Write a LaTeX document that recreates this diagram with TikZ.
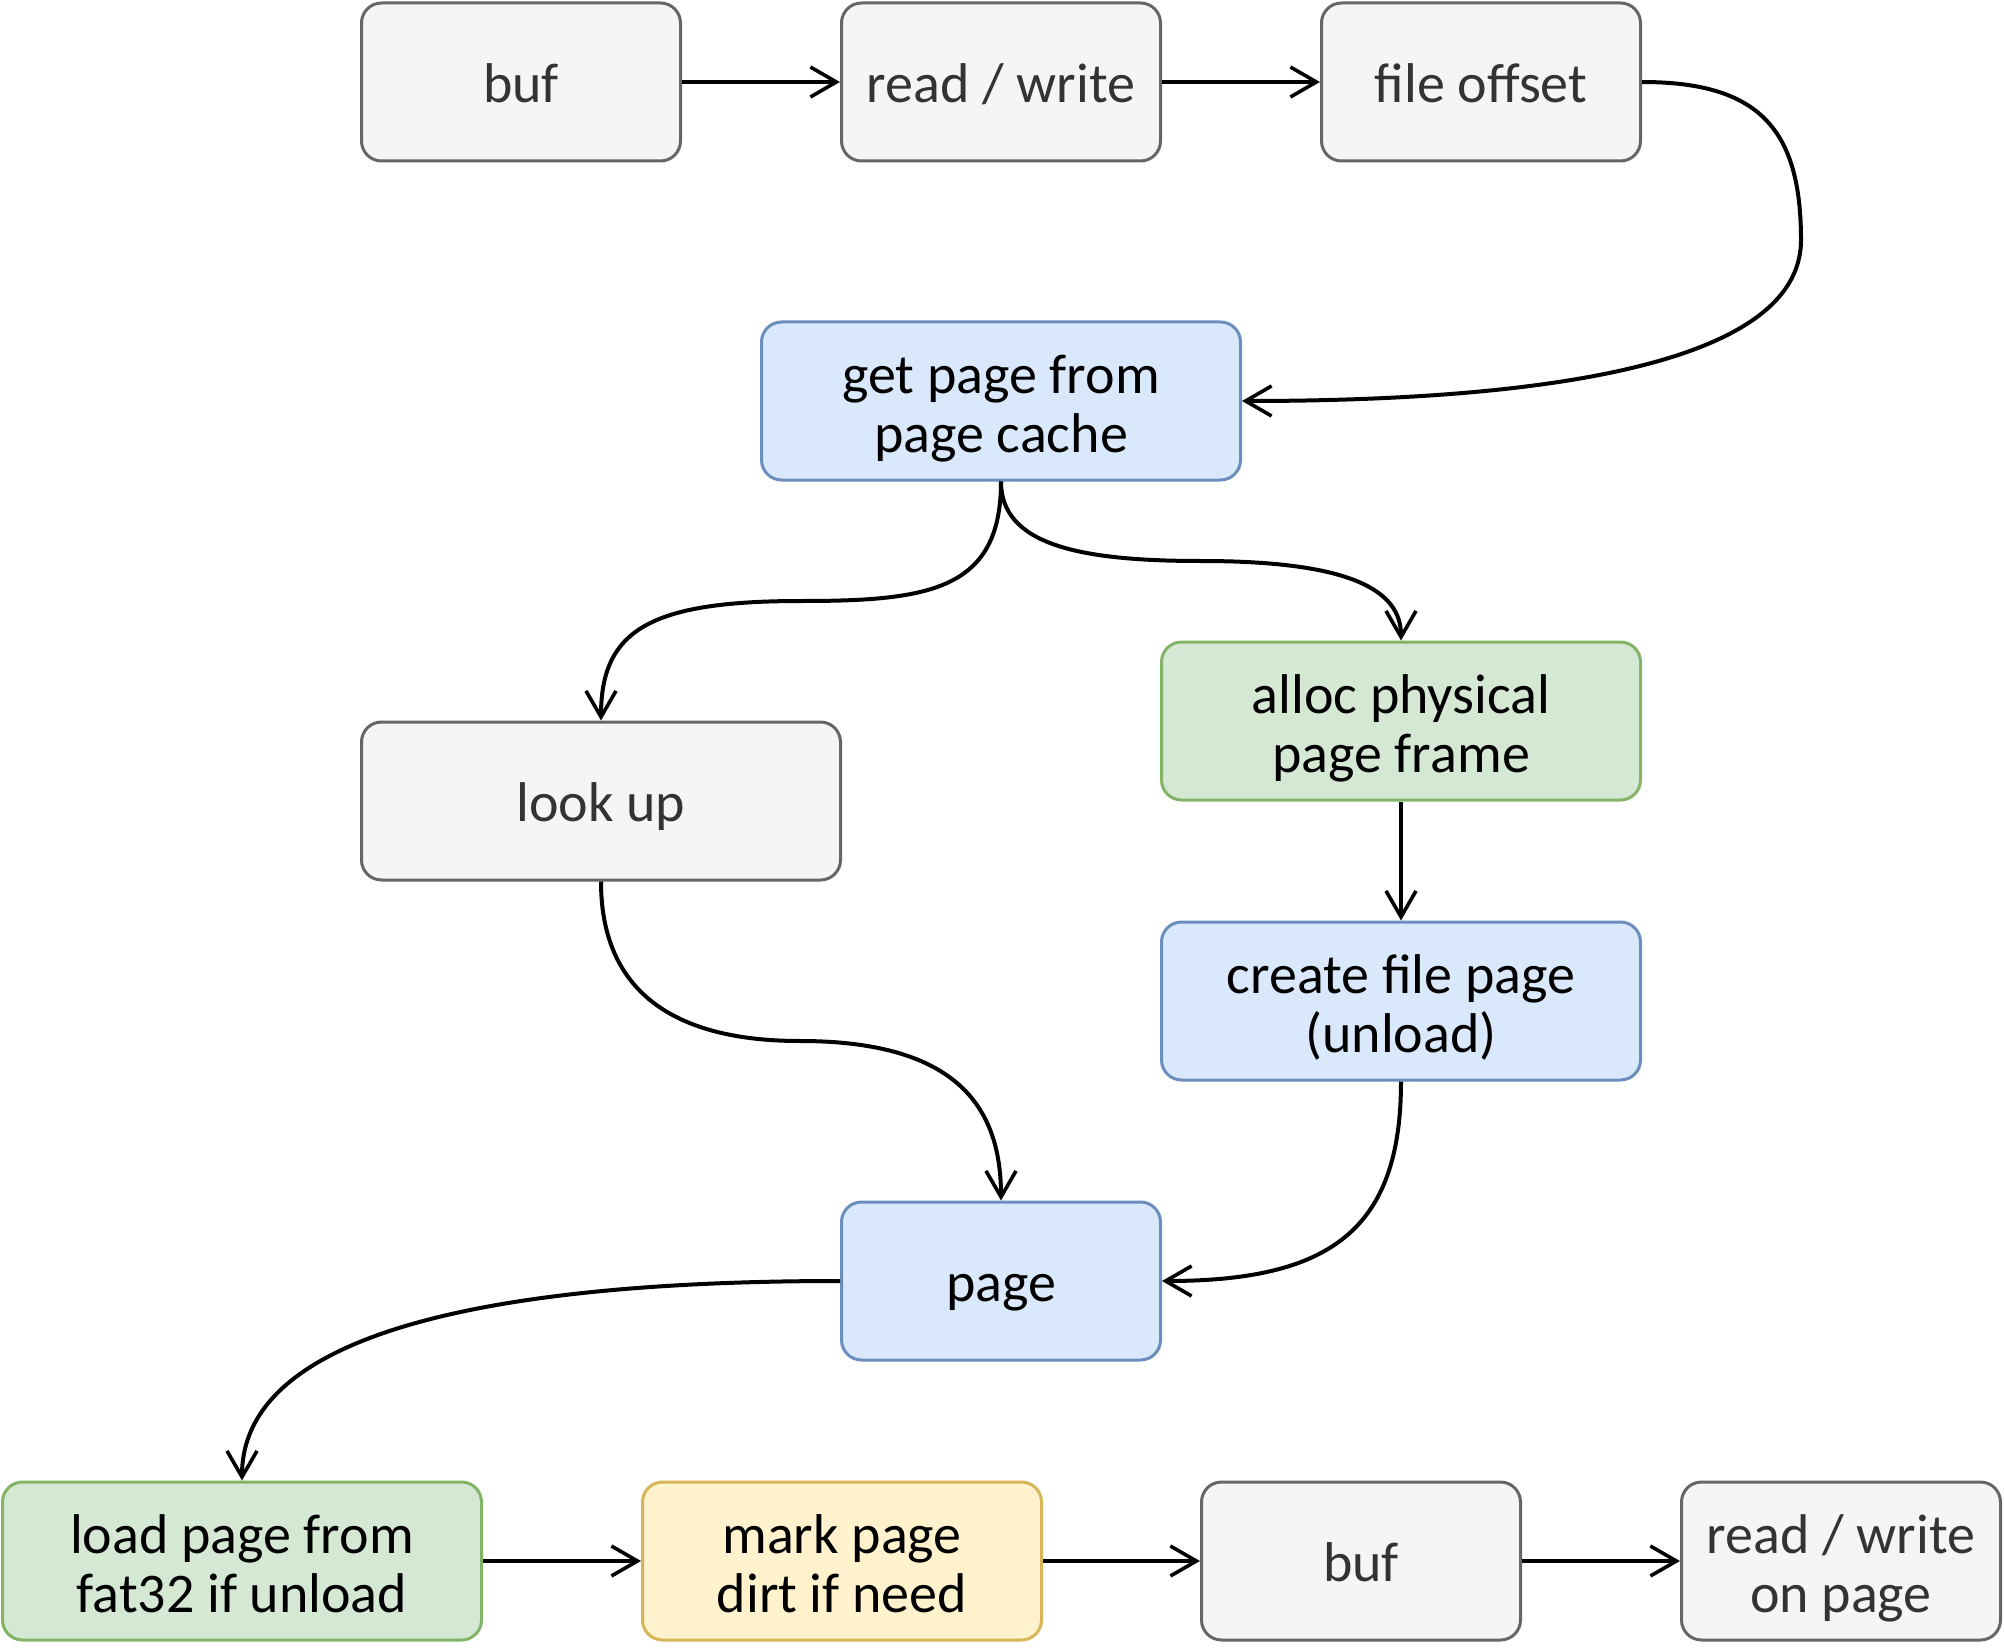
\documentclass[tikz,border=0pt]{standalone}
\usepackage{fontspec}
\setmainfont{Carlito}
\usetikzlibrary{arrows.meta}
\definecolor{grayfill}{HTML}{F5F5F5}
\definecolor{graydraw}{HTML}{666666}
\definecolor{graytext}{HTML}{333333}
\definecolor{bluefill}{HTML}{DAE8FC}
\definecolor{bluedraw}{HTML}{6C8EBF}
\definecolor{greenfill}{HTML}{D5E8D4}
\definecolor{greendraw}{HTML}{82B366}
\definecolor{yellowfill}{HTML}{FFF2CC}
\definecolor{yellowdraw}{HTML}{D6B656}
\newcommand\mystrt{\rule[-6pt]{0pt}{29.5pt}}
\newcommand\firststrt{\rule[-6pt]{0pt}{34pt}}
\newcommand\onestrt{\rule[-6pt]{0pt}{32.5pt}}
\tikzset{
  box/.style={rectangle, rounded corners=10pt, line width=1.5pt, minimum height=79pt,
    align=center, inner sep=0pt, font=\fontsize{28pt}{29.5pt}\selectfont},
  narrowbox/.style={box, minimum width=159.5pt},
  widebox/.style={box, minimum width=239.5pt},
  graybox/.style={fill=grayfill, draw=graydraw, text=graytext},
  bluebox/.style={fill=bluefill, draw=bluedraw, text=black},
  greenbox/.style={fill=greenfill, draw=greendraw, text=black},
  yellowbox/.style={fill=yellowfill, draw=yellowdraw, text=black},
  conn/.style={line width=2pt, -{Straight Barb[length=13pt,width=15pt,line width=1.8pt]}}
}
\begin{document}
\begin{tikzpicture}[x=0.5pt,y=-0.5pt]
\useasboundingbox (0,0) rectangle (2004,1648);
% top row
\node[narrowbox,graybox] (buf1) at (521,82) {\onestrt buf};
\node[narrowbox,graybox] (rw1) at (1001,82) {\onestrt read / write};
\node[narrowbox,graybox] (fo) at (1481,82) {\onestrt file offset};
% middle
\node[widebox,bluebox] (gp) at (1001,401) {\firststrt get page from\\\mystrt page cache};
\node[widebox,graybox] (lu) at (601,801) {\onestrt look up};
\node[widebox,greenbox] (al) at (1401,721) {\firststrt alloc physical\\\mystrt page frame};
\node[widebox,bluebox] (cr) at (1401,1001) {\firststrt create file page\\\mystrt (unload)};
\node[narrowbox,bluebox] (pg) at (1001,1281) {\onestrt page};
% bottom row
\node[widebox,greenbox] (ld) at (242,1561) {\firststrt load page from\\\mystrt fat32 if unload};
\node[box,minimum width=199.5pt,yellowbox] (mk) at (842,1561) {\firststrt mark page\\\mystrt dirt if need};
\node[narrowbox,graybox] (buf2) at (1361,1561) {\onestrt buf};
\node[narrowbox,graybox] (rw2) at (1841,1561) {\firststrt read / write\\\mystrt on page};
% connectors
\draw[conn] (buf1) -- (rw1);
\draw[conn] (rw1) -- (fo);
\draw[conn] (fo.east) .. controls (1760,82) and (1801,130) .. (1801,240)
  .. controls (1801,370) and (1520,401) .. (gp.east);
\draw[conn] (gp.south) .. controls (1001,590) and (930,601) .. (801,601)
  .. controls (650,601) and (601,630) .. (lu.north);
\draw[conn] (gp.south) .. controls (1001,545) and (1080,561) .. (1201,561)
  .. controls (1350,561) and (1401,590) .. (al.north);
\draw[conn] (al) -- (cr);
\draw[conn] (lu.south) .. controls (601,1010) and (700,1041) .. (800,1041)
  .. controls (960,1041) and (1001,1110) .. (pg.north);
\draw[conn] (cr.south) .. controls (1401,1230) and (1330,1281) .. (pg.east);
\draw[conn] (pg.west) .. controls (500,1281) and (242,1330) .. (ld.north);
\draw[conn] (ld) -- (mk);
\draw[conn] (mk) -- (buf2);
\draw[conn] (buf2) -- (rw2);
\end{tikzpicture}
\end{document}
